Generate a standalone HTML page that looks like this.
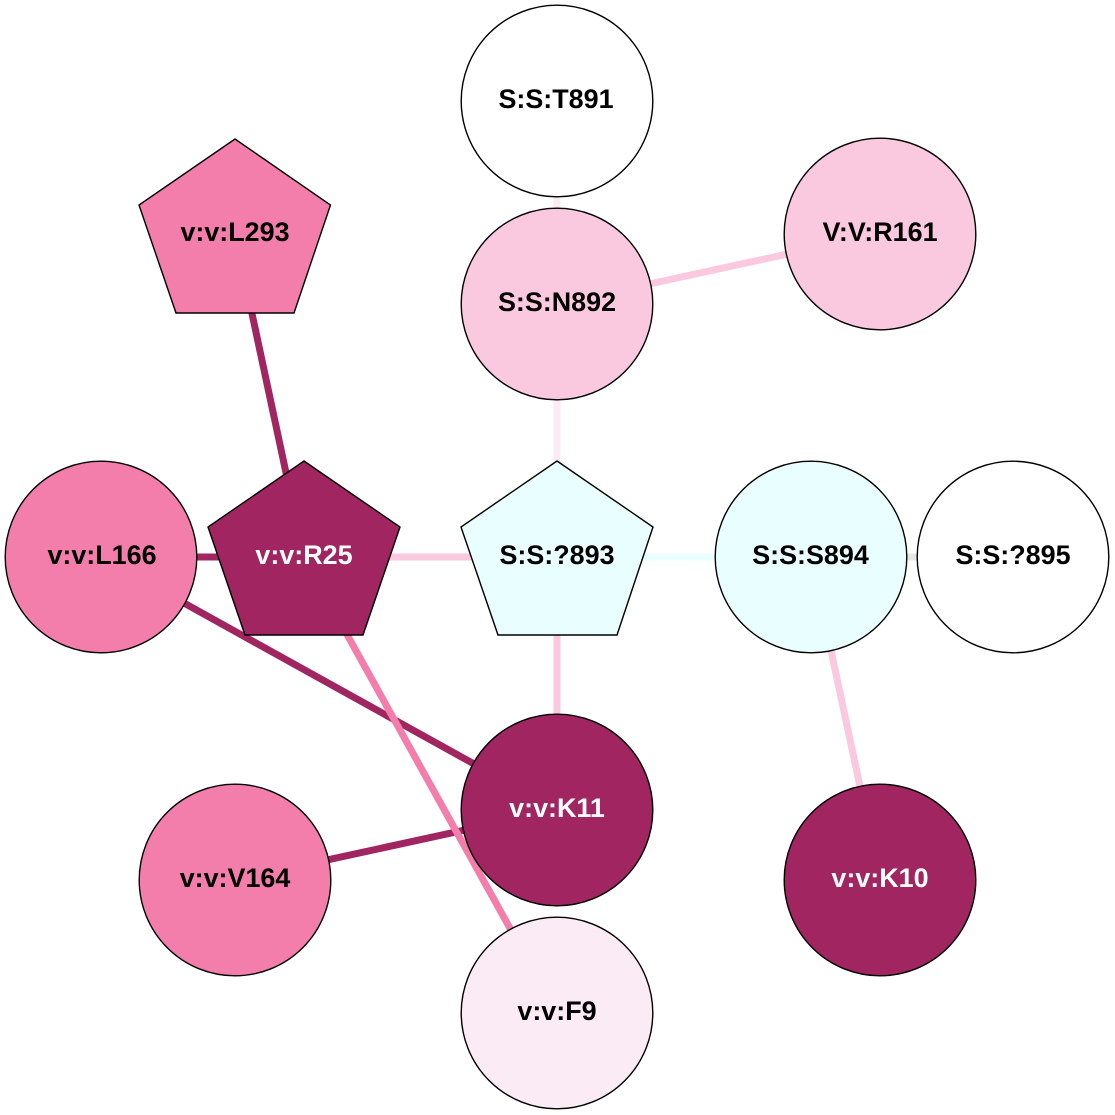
<!DOCTYPE html>
<html>
<head>
<meta charset="utf-8">
<style>
html,body{margin:0;padding:0;background:#fff;}
svg{display:block;}
text{font-family:"Liberation Sans",Arial,sans-serif;font-weight:bold;font-size:26.9px;text-anchor:middle;}
</style>
</head>
<body>
<svg width="1115" height="1115" viewBox="0 0 1115 1115" xmlns="http://www.w3.org/2000/svg">
<rect width="1115" height="1115" fill="#fff"/>
<g fill="none">
<line x1="557" y1="101" x2="557" y2="304" stroke="#fbebf4" stroke-width="7"/>
<line x1="557" y1="304" x2="880" y2="234" stroke="#fac8df" stroke-width="7"/>
<line x1="557" y1="304" x2="557" y2="557" stroke="#fbebf4" stroke-width="7"/>
<line x1="235" y1="234" x2="304" y2="557" stroke="#a12560" stroke-width="7"/>
<line x1="101" y1="557" x2="304" y2="557" stroke="#a12560" stroke-width="7"/>
<line x1="304" y1="557" x2="557" y2="557" stroke="#fac8df" stroke-width="7"/>
<line x1="557" y1="557" x2="811" y2="557" stroke="#e9ffff" stroke-width="7"/>
<line x1="811" y1="557" x2="1013" y2="557" stroke="#e6e6e6" stroke-width="7"/>
<line x1="557" y1="557" x2="557" y2="810" stroke="#fac8df" stroke-width="7"/>
<line x1="811" y1="557" x2="880" y2="880" stroke="#fac8df" stroke-width="7"/>
<line x1="101" y1="557" x2="557" y2="810" stroke="#a12560" stroke-width="7"/>
<line x1="235" y1="880" x2="557" y2="810" stroke="#a12560" stroke-width="7"/>
<line x1="304" y1="557" x2="557" y2="1013" stroke="#f37eac" stroke-width="7"/>
</g>
<g stroke="#000" stroke-width="1.4">
<circle cx="557" cy="101" r="95.8" fill="#ffffff"/>
<circle cx="557" cy="304" r="95.8" fill="#fac8df"/>
<circle cx="880" cy="234" r="95.8" fill="#fac8df"/>
<polygon points="235,139 330.5,205 294,313 176,313 139,205" fill="#f37eac"/>
<circle cx="101" cy="557" r="95.8" fill="#f37eac"/>
<polygon points="304,461 400,527 363,635 245,635 208,527" fill="#a12560"/>
<polygon points="557,461 653,527 617,635 498,635 461,527" fill="#e9ffff"/>
<circle cx="811" cy="557" r="95.8" fill="#e9ffff"/>
<circle cx="1013" cy="557" r="95.8" fill="#ffffff"/>
<circle cx="557" cy="810" r="95.8" fill="#a12560"/>
<circle cx="880" cy="880" r="95.8" fill="#a12560"/>
<circle cx="235" cy="880" r="95.8" fill="#f37eac"/>
<circle cx="557" cy="1013" r="95.8" fill="#fbebf4"/>
</g>
<g fill="#000">
<text x="556" y="108">S:S:T891</text>
<text x="557" y="311">S:S:N892</text>
<text x="880" y="241">V:V:R161</text>
<text x="235" y="241">v:v:L293</text>
<text x="102" y="564">v:v:L166</text>
<text x="304" y="564" fill="#fff">v:v:R25</text>
<text x="557" y="564">S:S:?893</text>
<text x="810.5" y="564">S:S:S894</text>
<text x="1013" y="564">S:S:?895</text>
<text x="557" y="817" fill="#fff">v:v:K11</text>
<text x="880" y="887" fill="#fff">v:v:K10</text>
<text x="235" y="887">v:v:V164</text>
<text x="557" y="1020">v:v:F9</text>
</g>
</svg>
</body>
</html>
